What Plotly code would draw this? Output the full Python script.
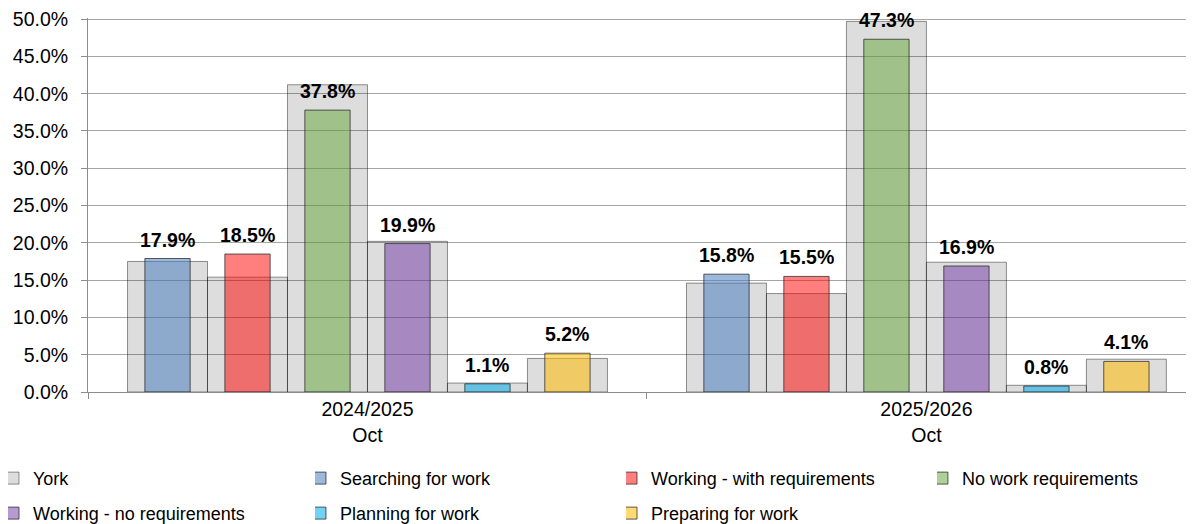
import plotly.graph_objects as go

periods = ["2024/2025<br>Oct", "2025/2026<br>Oct"]
series_names = [
    "Searching for work",
    "Working - with requirements",
    "No work requirements",
    "Working - no requirements",
    "Planning for work",
    "Preparing for work",
]
# York benchmark values (%), per period, in series order
york_2024 = [17.5, 15.4, 41.2, 20.2, 1.2, 4.5]
york_2025 = [14.6, 13.2, 49.7, 17.4, 0.9, 4.4]
# Series values (%), [2024/2025, 2025/2026]
searching = [17.9, 15.8]
working_with = [18.5, 15.5]
no_work = [37.8, 47.3]
working_no = [19.9, 16.9]
planning = [1.1, 0.8]
preparing = [5.2, 4.1]

series_values = [searching, working_with, no_work, working_no, planning, preparing]
series_colors = [
    "rgba(74,128,192,0.55)",
    "rgba(255,0,0,0.5)",
    "rgba(110,170,70,0.55)",
    "rgba(112,54,164,0.5)",
    "rgba(0,172,235,0.55)",
    "rgba(255,186,0,0.55)",
]

FONT = "Liberation Sans, Arial, sans-serif"
n = len(series_names)
york_w = 0.1431      # width of a York bar in category units
ser_w = 0.081        # width of a series bar

# legend slots: York first, then the series, in reading order
legend_ids = ["legend", "legend2", "legend3", "legend4", "legend5", "legend6", "legend7"]
legend_pos = [  # (x, y) in container fractions
    (0.0, 0.1023), (0.2571, 0.1023), (0.5176, 0.1023), (0.778, 0.1023),
    (0.0, 0.0355), (0.2571, 0.0355), (0.5176, 0.0355),
]

fig = go.Figure()

york_x = [periods[0]] * n + [periods[1]] * n
york_y = york_2024 + york_2025
york_off = [(i - n / 2) * york_w for i in range(n)] * 2
fig.add_trace(go.Bar(
    name="York", x=york_x, y=york_y, offset=york_off, width=york_w,
    marker=dict(color="rgba(0,0,0,0.135)", line=dict(color="rgba(0,0,0,0.42)", width=1)),
    legend=legend_ids[0], showlegend=True, hoverinfo="skip",
))

for i, (name, vals, col) in enumerate(zip(series_names, series_values, series_colors)):
    center = (i - n / 2 + 0.5) * york_w
    fig.add_trace(go.Bar(
        name=name, x=periods, y=vals, offset=center - ser_w / 2, width=ser_w,
        marker=dict(color=col, line=dict(color="rgba(40,40,40,0.75)", width=1)),
        legend=legend_ids[i + 1], showlegend=True,
    ))
    for g, v in enumerate(vals):
        fig.add_annotation(
            x=g + center, y=v, xref="x", yref="y", text=f"<b>{v:.1f}%</b>",
            showarrow=False, yanchor="bottom", yshift=6,
            font=dict(family=FONT, size=19.5, color="#000000"),
        )

legend_layout = {}
for lid, (lx, ly) in zip(legend_ids, legend_pos):
    legend_layout[lid] = dict(
        orientation="h", xref="container", yref="container",
        x=lx, y=ly, xanchor="left", yanchor="middle", indentation=-15,
        font=dict(family=FONT, size=18), bgcolor="rgba(0,0,0,0)",
    )

fig.update_layout(
    width=1194, height=524,
    margin=dict(l=80, r=0, t=10, b=140, autoexpand=False),
    paper_bgcolor="white", plot_bgcolor="white",
    barmode="overlay", showlegend=True,
    font=dict(family=FONT, size=19, color="#000000"),
    xaxis=dict(
        type="category", range=[-0.5, 1.493],
        showline=True, linecolor="#8c8c8c", linewidth=1,
        ticks="outside", tickson="boundaries", ticklen=6, tickcolor="#8c8c8c",
        showgrid=False, tickfont=dict(size=19.5),
    ),
    yaxis=dict(
        range=[0, 50.15], tickmode="linear", tick0=0, dtick=5,
        tickformat=".1f", ticksuffix="%", showticksuffix="all",
        showline=True, linecolor="#8c8c8c", linewidth=1,
        ticks="outside", ticklen=6, tickcolor="#8c8c8c",
        showgrid=True, gridcolor="#a6a6a6", gridwidth=1,
        zeroline=False, tickfont=dict(size=19.5), ticklabelstandoff=9,
        ticklabeloverflow="allow",
    ),
    **legend_layout,
)

fig.write_html("out.html")
